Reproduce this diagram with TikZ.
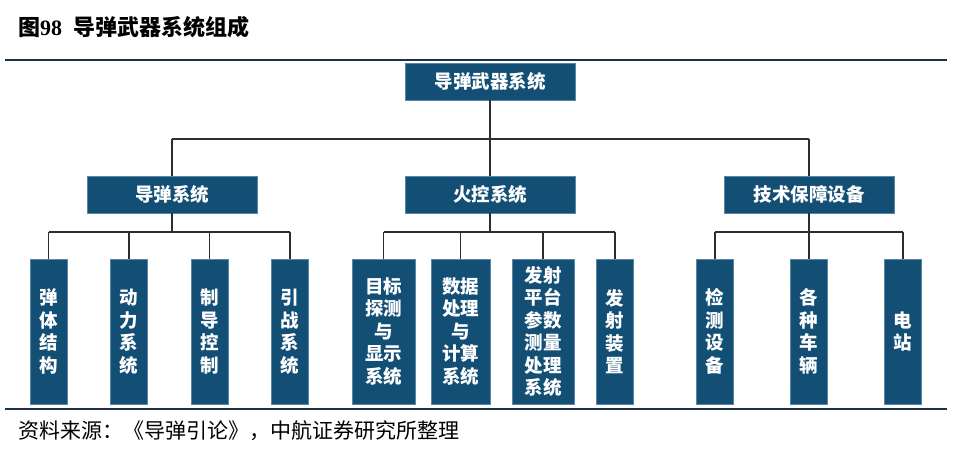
\documentclass[tikz,border=0pt]{standalone}
\usepackage{fontspec}
\newfontfamily\cjk{Noto Sans CJK SC}
\newfontfamily\serifnum{Liberation Serif}
\definecolor{boxfill}{RGB}{19,79,117}
\definecolor{boxedge}{RGB}{90,135,165}
\definecolor{conn}{RGB}{45,45,45}
\definecolor{rulec}{RGB}{30,50,70}
\begin{document}
\begin{tikzpicture}[x=1pt,y=-1pt,
  box/.style={draw=boxedge,line width=0.6pt,fill=boxfill,text=white,inner sep=0pt,
    align=center,font=\cjk\bfseries\fontsize{18.5}{22.5}\selectfont},
  hbox/.style={box,minimum width=170pt,minimum height=37pt},
  leaf/.style={box,minimum width=37pt,minimum height=145pt},
  link/.style={draw=conn,line width=1.1pt},
  rulel/.style={draw=rulec,line width=1.3pt}]
\useasboundingbox (0,0) rectangle (964,455);
% title and rules
\node[anchor=west,inner sep=0pt,font=\cjk\bfseries\fontsize{22}{25}\selectfont] (title) at (18,27)
  {图{\serifnum\bfseries 98}\hspace{0.5em}导弹武器系统组成};
\coordinate (r1a) at (5,60); \coordinate (r1b) at (947,60);
\coordinate (r2a) at (5,409); \coordinate (r2b) at (947,409);
\draw[rulel] (r1a) -- (r1b);
\draw[rulel] (r2a) -- (r2b);
% boxes
\node[hbox] (top) at (490,81.5) {导弹武器系统};
\node[hbox] (g1) at (172,194.5) {导弹系统};
\node[hbox] (g2) at (490,194.5) {火控系统};
\node[hbox] (g3) at (809,194.5) {技术保障设备};
\node[leaf] (a1) at (48.5,331.5) {弹\\体\\结\\构};
\node[leaf] (a2) at (129,331.5) {动\\力\\系\\统};
\node[leaf] (a3) at (209.5,331.5) {制\\导\\控\\制};
\node[leaf] (a4) at (290,331.5) {引\\战\\系\\统};
\node[box,minimum width=63pt,minimum height=145pt] (b1) at (383.5,331.5) {目标\\探测\\与\\显示\\系统};
\node[box,minimum width=59pt,minimum height=145pt] (b2) at (460.5,331.5) {数据\\处理\\与\\计算\\系统};
\node[box,minimum width=62pt,minimum height=145pt] (b3) at (543,331.5) {发射\\平台\\参数\\测量\\处理\\系统};
\node[leaf] (b4) at (615,331.5) {发\\射\\装\\置};
\node[leaf] (c1) at (715,331.5) {检\\测\\设\\备};
\node[leaf] (c2) at (809,331.5) {各\\种\\车\\辆};
\node[leaf] (c3) at (903,331.5) {电\\站};
% buses
\coordinate (bus0) at (0,139);
\coordinate (bus1) at (0,232);
\draw[link] (top.south) -- (top.south |- bus0);
\draw[link] (g1.north |- bus0) -- (g3.north |- bus0);
\foreach \n in {g1,g2,g3} \draw[link] (\n.north) -- (\n.north |- bus0);
% group 1
\draw[link] (g1.south) -- (g1.south |- bus1);
\draw[link] (a1.north |- bus1) -- (a4.north |- bus1);
\foreach \n in {a1,a2,a3,a4} \draw[link] (\n.north) -- (\n.north |- bus1);
% group 2
\draw[link] (g2.south) -- (g2.south |- bus1);
\draw[link] (b1.north |- bus1) -- (b4.north |- bus1);
\foreach \n in {b1,b2,b3,b4} \draw[link] (\n.north) -- (\n.north |- bus1);
% group 3
\draw[link] (g3.south) -- (g3.south |- bus1);
\draw[link] (c1.north |- bus1) -- (c3.north |- bus1);
\foreach \n in {c1,c2,c3} \draw[link] (\n.north) -- (\n.north |- bus1);
% source
\node[anchor=west,inner sep=0pt,font=\cjk\fontsize{21}{24}\selectfont] (src) at (18,431)
  {资料来源：《导弹引论》，中航证券研究所整理};
\end{tikzpicture}
\end{document}
